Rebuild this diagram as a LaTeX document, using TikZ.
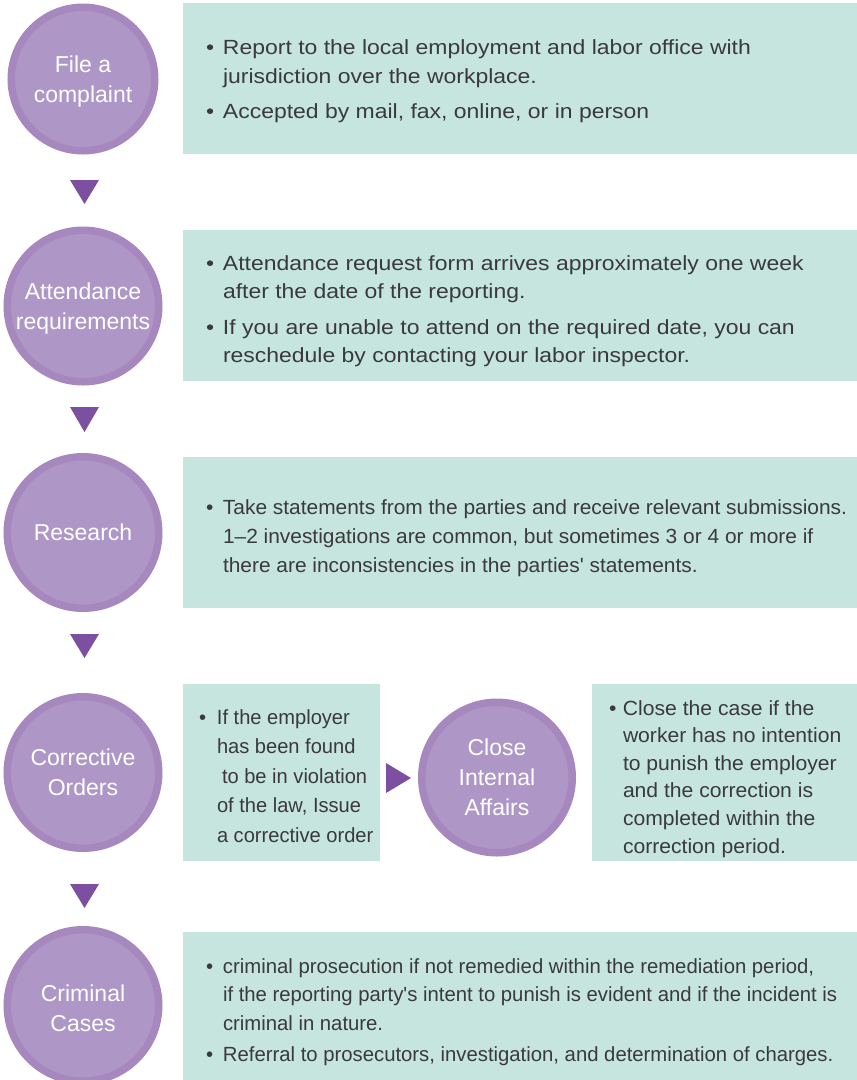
\documentclass[tikz,border=0pt]{standalone}
\usepackage{fontspec}
\setmainfont{Liberation Sans}
% body faces: one family, different horizontal set widths per panel
\newfontfamily\facewide[FakeStretch=1.12]{Liberation Sans}
\newfontfamily\faceresearch[FakeStretch=1.02]{Liberation Sans}
\newfontfamily\facecrime[FakeStretch=0.99]{Liberation Sans}
\newfontfamily\faceorder[FakeStretch=0.98]{Liberation Sans}
\newfontfamily\faceclose[FakeStretch=1.03]{Liberation Sans}
\newfontfamily\facedisc{Liberation Sans}

\definecolor{panelmint}{HTML}{C6E5DF}
\definecolor{discring}{HTML}{A688BE}
\definecolor{discfill}{HTML}{AE97C7}
\definecolor{markerpurple}{HTML}{7C4FA0}
\definecolor{bodyink}{HTML}{3A3A3A}

% bullet followed by a fixed gap, and the matching hanging indent
\newcommand{\bulletgap}[2]{\makebox[#1][l]{\hspace*{#2}\textbullet}}
\newcommand{\hang}[1]{\hspace*{#1}}
% extra head room on the first line of a two-line disc label
\newcommand{\headroom}{\rule{0pt}{22.5pt}}

\begin{document}
\begin{tikzpicture}[x=1pt,y=-1pt,
  panel/.style={fill=panelmint, draw=none, inner sep=0pt, outer sep=0pt, anchor=north west},
  disc/.style={circle, fill=discfill, draw=discring, line width=7.5pt, text=white,
    align=center, inner sep=0pt, font=\facedisc\fontsize{23pt}{30pt}\selectfont},
  marker/.style={fill=markerpurple, draw=none},
  bodytext/.style={anchor=base west, inner sep=0pt, outer sep=0pt, text=bodyink}]
\useasboundingbox (0,0) rectangle (857,1080);
\clip (0,0) rectangle (857,1080);

% ---- panels ----
\node[panel, minimum width=674pt, minimum height=151pt] (b1) at (183,3) {};
\node[panel, minimum width=674pt, minimum height=151pt] (b2) at (183,230) {};
\node[panel, minimum width=674pt, minimum height=151pt] (b3) at (183,457) {};
\node[panel, minimum width=197pt, minimum height=177pt] (b4) at (183,684) {};
\node[panel, minimum width=265pt, minimum height=177pt] (b6) at (592,684) {};
\node[panel, minimum width=674pt, minimum height=150pt] (b5) at (183,932) {};

% ---- step discs ----
\node[disc, minimum size=143.5pt] (c1) at (83,79) {\headroom File a\\complaint};
\node[disc, minimum size=151.5pt] (c2) at (83,306) {\headroom Attendance\\requirements};
\node[disc, minimum size=151.5pt] (c3) at (83,532.5) {Research};
\node[disc, minimum size=151.5pt] (c4) at (83,772.5) {Corrective\\Orders};
\node[disc, minimum size=151.5pt] (c5) at (83,1005.5) {\headroom Criminal\\Cases};
\node[disc, minimum size=150.5pt] (c6) at (497,777.5) {Close\\Internal\\Affairs};

% ---- flow markers ----
\fill[marker] (70,180) -- (99,180) -- (84.5,204) -- cycle;
\fill[marker] (70,407) -- (99,407) -- (84.5,432) -- cycle;
\fill[marker] (70,634) -- (99,634) -- (84.5,658) -- cycle;
\fill[marker] (70,884) -- (99,884) -- (84.5,908) -- cycle;
\fill[marker] (386,763) -- (386,793) -- (411,778) -- cycle;

% ---- panel texts ----
\node[bodytext] (t1) at (203,54) {\facewide\fontsize{20.5pt}{29pt}\selectfont\vtop{%
  \hbox{\bulletgap{20pt}{3pt}Report to the local employment and labor office with}
  \hbox{\hang{20pt}jurisdiction over the workplace.}
  \vskip6pt
  \hbox{\bulletgap{20pt}{3pt}Accepted by mail, fax, online, or in person}}};

\node[bodytext] (t2) at (203,270) {\facewide\fontsize{20.5pt}{28pt}\selectfont\vtop{%
  \hbox{\bulletgap{20pt}{3pt}Attendance request form arrives approximately one week}
  \hbox{\hang{20pt}after the date of the reporting.}
  \vskip8pt
  \hbox{\bulletgap{20pt}{3pt}If you are unable to attend on the required date, you can}
  \hbox{\hang{20pt}reschedule by contacting your labor inspector.}}};

\node[bodytext] (t3) at (203,514) {\faceresearch\fontsize{20.5pt}{29pt}\selectfont\vtop{%
  \hbox{\bulletgap{20pt}{3pt}Take statements from the parties and receive relevant submissions.}
  \hbox{\hang{20pt}1–2 investigations are common, but sometimes 3 or 4 or more if}
  \hbox{\hang{20pt}there are inconsistencies in the parties' statements.}}};

\node[bodytext] (t4) at (198,724) {\faceorder\fontsize{20.5pt}{29.5pt}\selectfont\vtop{%
  \hbox{\bulletgap{19pt}{1pt}If the employer}
  \hbox{\hang{19pt}has been found}
  \hbox{\hang{24pt}to be in violation}
  \hbox{\hang{19pt}of the law, Issue}
  \hbox{\hang{19pt}a corrective order}}};

\node[bodytext] (t6) at (609,715) {\faceclose\fontsize{20.5pt}{27.6pt}\selectfont\vtop{%
  \hbox{\bulletgap{14pt}{0pt}Close the case if the}
  \hbox{\hang{14pt}worker has no intention}
  \hbox{\hang{14pt}to punish the employer}
  \hbox{\hang{14pt}and the correction is}
  \hbox{\hang{14pt}completed within the}
  \hbox{\hang{14pt}correction period.}}};

\node[bodytext] (t5) at (203,973) {\facecrime\fontsize{20.5pt}{28.5pt}\selectfont\vtop{%
  \hbox{\bulletgap{20pt}{3pt}criminal prosecution if not remedied within the remediation period,}
  \hbox{\hang{20pt}if the reporting party's intent to punish is evident and if the incident is}
  \hbox{\hang{20pt}criminal in nature.}
  \vskip2.5pt
  \hbox{\bulletgap{20pt}{3pt}Referral to prosecutors, investigation, and determination of charges.}}};
\end{tikzpicture}
\end{document}
